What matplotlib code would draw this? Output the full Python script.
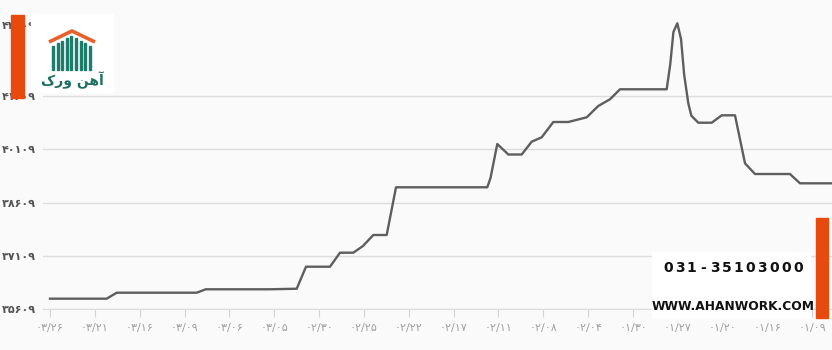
import numpy as np
import matplotlib.pyplot as plt
from matplotlib.patches import Rectangle

plt.rcParams['font.family'] = ['DejaVu Sans']

# x position in category units (one unit = one date label), price values
pos = [0.0, 1.264, 1.487, 3.271, 3.472, 4.905, 5.501, 5.708, 6.243, 6.466,
       6.763, 6.979, 7.208, 7.507, 7.715, 9.750, 9.822, 9.973, 10.219, 10.517,
       10.740, 10.963, 11.222, 11.556, 11.967, 12.225, 12.486, 12.709, 13.750,
       13.830, 13.900, 13.987, 14.070, 14.140, 14.232, 14.300, 14.455, 14.754,
       14.977, 15.273, 15.496, 15.719, 16.499, 16.722, 17.436]
price = [35910, 35910, 36078, 36078, 36174, 36174, 36190, 36808, 36808, 37202,
         37202, 37390, 37699, 37699, 39039, 39039, 39300, 40255, 39960, 39960,
         40320, 40443, 40873, 40873, 41005, 41323, 41511, 41792, 41792,
         42500, 43400, 43646, 43200, 42200, 41398, 41050, 40853, 40853,
         41061, 41061, 39713, 39412, 39412, 39151, 39151]

dates = ['۰۳/۲۶', '۰۳/۲۱', '۰۳/۱۶', '۰۳/۰۹', '۰۳/۰۶', '۰۳/۰۵', '۰۲/۳۰', '۰۲/۲۵',
         '۰۲/۲۲', '۰۲/۱۷', '۰۲/۱۱', '۰۲/۰۸', '۰۲/۰۴', '۰۱/۳۰', '۰۱/۲۷', '۰۱/۲۰',
         '۰۱/۱۶', '۰۱/۰۹']
yticks = [35609, 37109, 38609, 40109, 41609, 43609]
ylabels = ['۳۵۶۰۹', '۳۷۱۰۹', '۳۸۶۰۹', '۴۰۱۰۹', '۴۱۶۰۹', '۴۳۶۰۹']

phone = '031-35103000'
site = 'WWW.AHANWORK.COM'
brand = '\uFB8E\uFEAD\uFEED \uFEE6\uFEEB\uFE81'  # آهن ورک (visual order)

fig = plt.figure(figsize=(8.32, 3.5), dpi=100, facecolor='#fafafa')
ax = fig.add_axes([43/832, 40.6/350, 789/832, 309.4/350])
ax.set_facecolor('#fafafa')

ax.plot(pos, price, color='#5e5e5e', lw=1.7, solid_joinstyle='round', zorder=3)

ax.set_xlim(-0.156, 17.436)
ax.set_ylim(35609, 44300)
ax.set_xticks(range(len(dates)))
ax.set_xticklabels(dates)
ax.set_yticks(yticks)
ax.set_yticklabels(ylabels)
ax.grid(axis='y', color='#dcdcdc', lw=1)
ax.get_ygridlines()[-1].set_visible(False)
ax.tick_params(axis='y', length=0, pad=5, labelsize=8, labelcolor='#555555')
ax.tick_params(axis='x', length=6, color='#d4d4d4', pad=4, labelsize=8,
               labelcolor='#a0a0a0')
for s in ['top', 'right', 'left']:
    ax.spines[s].set_visible(False)
ax.spines['bottom'].set_color('#dcdcdc')
for lab in ax.get_yticklabels():
    lab.set_fontweight('bold')

# overlay in pixel coordinates for logo / contact block
ov = fig.add_axes([0, 0, 1, 1], zorder=5)
ov.set_xlim(0, 832)
ov.set_ylim(350, 0)
ov.axis('off')
ov.patch.set_alpha(0)

# orange side bars
ov.add_patch(Rectangle((11, 15), 13, 83, color='#e8490f'))
ov.add_patch(Rectangle((816, 218), 12, 100, color='#e8490f'))

# logo
ov.add_patch(Rectangle((31, 14), 82, 78, color='white'))
ov.plot([49, 72, 95], [42, 31, 42], color='#e8602a', lw=2.6, solid_capstyle='butt')
for i, top in enumerate([46, 43, 41, 38, 36, 38, 41, 43, 46]):
    ov.add_patch(Rectangle((52 + i*4.6, top), 2.0, 70 - top, color='#1d7d6b'))
ov.text(72, 80, brand, ha='center', va='center', fontsize=10,
        color='#1f6f5f', fontweight='bold')

# contact block
ov.add_patch(Rectangle((652, 252), 158, 66, color='white'))
for i, ch in enumerate(phone):
    ov.text(668 + i*11.8, 268, ch, ha='center', va='center', fontsize=10,
            fontweight='bold', color='#111111')
ov.text(733, 306, site, ha='center', va='center', fontsize=8.8,
        fontweight='bold', color='#111111')

fig.savefig('out.png', dpi=100, facecolor=fig.get_facecolor())
